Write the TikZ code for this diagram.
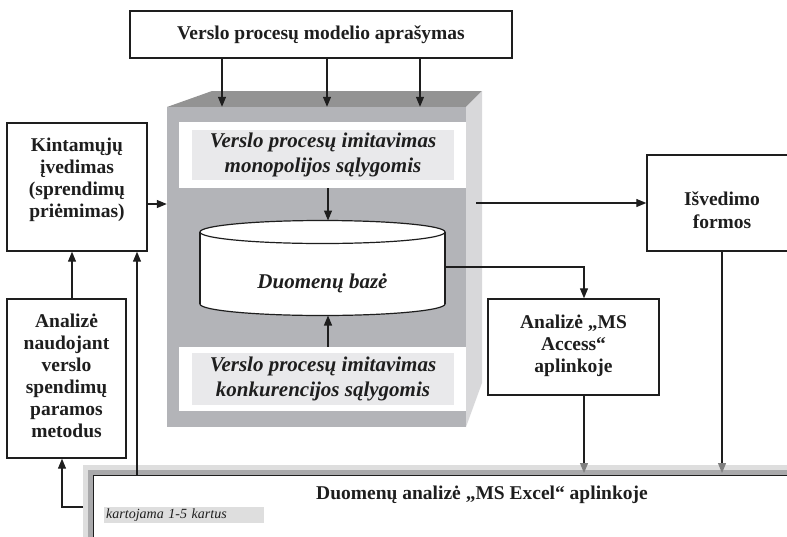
\documentclass[tikz,border=0pt]{standalone}
\usepackage{fontspec}
\setmainfont{Liberation Serif}
\usetikzlibrary{positioning, calc, arrows.meta}
\definecolor{inkgray}{HTML}{1E1E1E}
\definecolor{topgray}{HTML}{939393}
\definecolor{frontgray}{HTML}{B3B4B8}
\definecolor{sidegray}{HTML}{D8D8DA}
\definecolor{bandgray}{HTML}{E9E9EB}
\definecolor{shadelight}{HTML}{DEDEDE}
\definecolor{shadedark}{HTML}{A9A9AB}
\tikzset{
  blockbox/.style={draw=inkgray, line width=1.4pt, fill=white, align=center, inner sep=0pt,
    font=\fontsize{19.5}{22}\selectfont\bfseries, text=inkgray},
  simtext/.style={align=center, font=\fontsize{21}{25}\selectfont\bfseries\itshape, text=inkgray},
  flow/.style={draw=inkgray, line width=1.2pt, -{Triangle[length=10pt,width=8pt]}},
  flowgray/.style={flow, -{Triangle[length=10pt,width=8pt,color=gray]}},
}

\begin{document}
\begin{tikzpicture}[x=1pt, y=-1pt]
    \useasboundingbox (0,0) rectangle (787,536);

    % --- 3D box of the simulation ---
    \fill[topgray] (167,107) -- (212,91) -- (482,91) -- (466,107) -- cycle;
    \fill[sidegray] (466,107) -- (482,91) -- (482,383) -- (466,427) -- cycle;
    \node[fill=frontgray, minimum width=299, minimum height=320, inner sep=0pt] (front) at (316.5,267) {};

    \node[fill=white, minimum width=287, minimum height=66, inner sep=0pt] (monoband) at (322.5,155) {};
    \node[fill=bandgray, minimum width=262, minimum height=50, inner sep=0pt] (monoin) at (323,155) {};
    \node[simtext] (mono) at (323,155) {Verslo procesų imitavimas\\monopolijos sąlygomis};

    \node[fill=white, minimum width=287, minimum height=64, inner sep=0pt] (konkband) at (322.5,379) {};
    \node[fill=bandgray, minimum width=262, minimum height=52, inner sep=0pt] (konkin) at (323,379) {};
    \node[simtext] (konk) at (323,379) {Verslo procesų imitavimas\\konkurencijos sąlygomis};

    % --- Database cylinder ---
    \draw[inkgray, line width=1.2pt, fill=white] (322.5,304) ellipse [x radius=122.5, y radius=11.5];
    \fill[white] (201,232) rectangle (444,304);
    \draw[inkgray, line width=1.2pt] (200,232) -- (200,304) (445,232) -- (445,304);
    \draw[inkgray, line width=1.2pt, fill=white] (322.5,232) ellipse [x radius=122.5, y radius=11.5];
    \node[simtext] (db) at (322.5,283) {Duomenų bazė};
    \coordinate (dbtop) at (328,220.5);
    \coordinate (dbbot) at (328,315.5);
    \coordinate (dbright) at (445,267);

    % --- Boxes ---
    \node[blockbox, minimum width=382, minimum height=47] (model) at (321,34.5) {Verslo procesų modelio aprašymas};
    \node[blockbox, minimum width=140, minimum height=128] (input) at (77,187) {Kintamųjų\\įvedimas\\(sprendimų\\priėmimas)\\[-4pt]\mbox{}};
    \node[blockbox, minimum width=119, minimum height=159] (methods) at (66.5,378.5) {Analizė\\naudojant\\verslo\\spendimų\\paramos\\metodus\\[-16pt]\mbox{}};
    \node[blockbox, minimum width=150, minimum height=96] (output) at (722,203) {\mbox{}\\[6pt]Išvedimo\\[1pt]formos};
    \node[blockbox, minimum width=171, minimum height=96] (access) at (573.5,347) {Analizė „MS\\Access“\\aplinkoje\\[-16pt]\mbox{}};

    % --- Excel box with its shadow ---
    \fill[shadelight] (83,465) rectangle (800,545);
    \fill[shadedark] (88,470) rectangle (800,545);
    \node[draw=inkgray, line width=1.4pt, fill=white, anchor=north west, minimum width=720, minimum height=80, inner sep=0pt] (excel) at (93,475) {};
    \node[font=\fontsize{19.5}{22}\selectfont\bfseries, text=inkgray] (exceltitle) at (482,495) {Duomenų analizė „MS Excel“ aplinkoje};
    \node[fill=shadelight, anchor=west, minimum width=160, minimum height=16, inner sep=2pt, text width=156,
          align=left, font=\fontsize{14}{16}\selectfont\itshape, text=inkgray] (repeat) at (104,515) {kartojama 1-5 kartus};

    % --- Connectors ---
    \coordinate (accx) at (584,0);
    \coordinate (upx) at (72,0);
    \coordinate (loopx) at (137,0);
    \coordinate (loopdx) at (62,0);
    \coordinate (xtop) at (0,473);
    \coordinate (loopstart) at (83,507);
    \coordinate (fronte) at (476,203);

    \foreach \x in {222,327,420} {
        \draw[flow] (\x,0 |- model.south) -- (\x,0 |- front.north);
    }
    \draw[flow] (monoband.south -| dbtop) -- (dbtop);
    \draw[flow] (konkband.north -| dbbot) -- (dbbot);
    \draw[flow] ([yshift=-17pt]input.east) -- ([yshift=-17pt]input.east -| front.west);
    \draw[flow] (fronte) -- (output.west);
    \draw[flow] (dbright) -| (access.north -| accx);
    \draw[flowgray] (access.south -| accx) -- (accx |- xtop);
    \draw[flowgray] (output.south) -- (output.south |- xtop);
    \draw[flow] (loopx |- excel.north) -- (loopx |- input.south);
    \draw[flow] (methods.north -| upx) -- (upx |- input.south);
    \draw[flow] (loopstart) -| (methods.south -| loopdx);
\end{tikzpicture}
\end{document}
